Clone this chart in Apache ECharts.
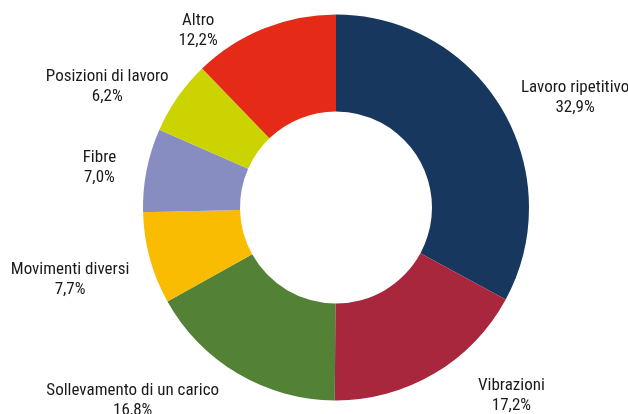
<!DOCTYPE html>
<html>
<head>
<meta charset="utf-8">
<script src="https://cdn.jsdelivr.net/npm/echarts@6/dist/echarts.min.js"></script>
<style>
html,body{margin:0;padding:0;background:#fff;}
#chart{width:628px;height:414px;}
</style>
</head>
<body>
<div id="chart"></div>
<script>
var categories = ['Lavoro ripetitivo', 'Vibrazioni', 'Sollevamento di un carico', 'Movimenti diversi', 'Fibre', 'Posizioni di lavoro', 'Altro'];
var values = [32.9, 17.2, 16.8, 7.7, 7.0, 6.2, 12.2];
var colors = ['#17375e', '#a9273d', '#538135', '#f9bc00', '#878dc0', '#cbd300', '#e52a17'];

// manual label placement adjustments (the original labels were hand-placed)
var labelNudge = [[-9, 3], [25, 3], [0, 9], [6, 16], [-5, 4], [5, 6], [-31, 10]];

var chart = echarts.init(document.getElementById('chart'), null, {renderer: 'canvas'});
chart.setOption({
  animation: false,
  backgroundColor: '#ffffff',
  series: [{
    type: 'pie',
    center: [336, 207.5],
    radius: [96, 193],
    startAngle: 90,
    clockwise: true,
    data: categories.map(function (c, i) {
      return { name: c, value: values[i], itemStyle: { color: colors[i] } };
    }),
    label: {
      show: true,
      position: 'outside',
      overflow: 'none',
      formatter: function (p) { return p.name + '\n' + p.value.toFixed(1).replace('.', ',') + '%'; },
      fontFamily: '"Roboto Condensed", "Liberation Sans", Arial, sans-serif',
      fontSize: 17,
      lineHeight: 20,
      color: '#1a1a1a'
    },
    labelLine: { show: false, length: 27, length2: 0 },
    labelLayout: function (p) {
      var r = p.labelRect;
      var n = labelNudge[p.dataIndex] || [0, 0];
      return { x: r.x + r.width / 2 + n[0], y: r.y + r.height / 2 + n[1], align: 'center', verticalAlign: 'middle' };
    }
  }]
});
</script>
</body>
</html>
